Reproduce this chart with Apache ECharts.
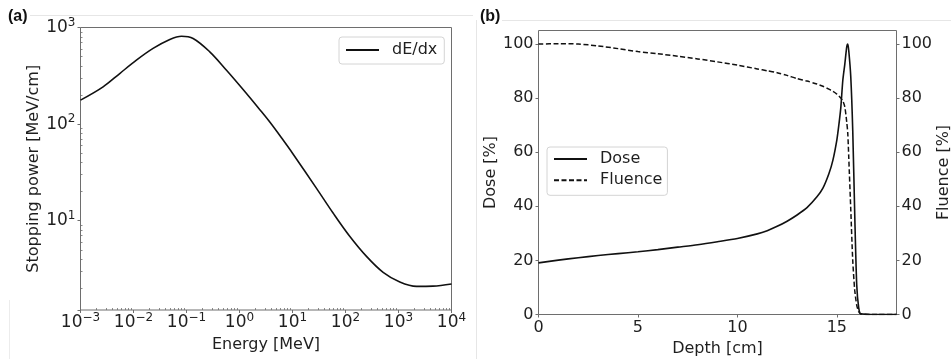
<!DOCTYPE html>
<html>
<head>
<meta charset="utf-8">
<script src="https://cdn.jsdelivr.net/npm/echarts@6/dist/echarts.min.js"></script>
<style>
  html, body { margin: 0; padding: 0; background: #fff; }
  #chart { width: 951px; height: 359px; }
</style>
</head>
<body>
<div id="chart"></div>
<script>
// (a) stopping power vs energy (log-log)
const energyMeV = [0.001, 0.00267, 0.0055, 0.01135, 0.0234, 0.0484, 0.0805, 0.1334, 0.275, 0.569,
  1.17, 2.42, 3.73, 6.65, 10, 28.4, 58.3, 120, 249, 513, 1059, 2188, 4467, 10000];
const stoppingPower = [177, 243, 334, 459, 607, 752, 813, 770, 560, 361,
  228, 141, 105, 68.4, 50, 21.6, 12.0, 6.9, 4.27, 2.92, 2.32, 2.09, 2.1, 2.21];

// (b) depth-dose and fluence
const depthCm = [0, 1, 2, 3, 4, 5, 6, 7, 8, 9, 10, 11, 11.5, 12, 12.5, 13, 13.5, 14, 14.3, 14.6,
  14.8, 15, 15.1, 15.2, 15.3, 15.4, 15.5, 15.55, 15.6, 15.7, 15.8, 15.9, 16, 16.1, 16.2, 17, 18];
const dosePct = [19.1, 20.1, 21.0, 21.8, 22.5, 23.2, 24.0, 24.9, 25.8, 26.9, 28.1, 29.8, 31.0, 32.6, 34.5, 36.8, 39.5, 43.5, 46.7, 52,
  57, 64.5, 70, 76.5, 86.5, 92.5, 99, 100, 97.5, 88, 68, 37, 11, 2.5, 0.3, 0, 0];
const fluencePct = [100, 100.1, 100, 99.3, 98.3, 97.2, 96.4, 95.5, 94.5, 93.4, 92.2, 90.8, 90.1, 89.4, 88.4, 87.2, 86.3, 85.2, 84.4, 83.3,
  82.5, 81.5, 80.8, 80.0, 79.0, 76.8, 71, 67, 58, 39, 20, 9, 3.5, 1, 0.2, 0, 0];

const pctTicks = [0, 20, 40, 60, 80, 100];
const depthTicks = [0, 5, 10, 15];

const FONT = 'DejaVu Sans';
const INK = '#1f1f1f';
const SPINE = '#6e6e6e';

// minor tick positions (in decades) for the log axes
function minorDecades(lo, hi) {
  const out = [];
  for (let n = Math.floor(lo); n < hi; n++) {
    for (let m = 2; m <= 9; m++) {
      const v = n + Math.log10(m);
      if (v > lo && v < hi) out.push(v);
    }
  }
  return out;
}
const yMin = 1.19;

function powLabel(v) {
  const e = Math.log10(v);
  const r = Math.round(e);
  if (Math.abs(e - r) > 1e-6) return '';
  return '{b|10}{s|' + (r < 0 ? '\u2212' + (-r) : r) + '}';
}
const powRich = {
  b: { fontFamily: FONT, fontSize: 17, color: INK, lineHeight: 22 },
  s: { fontFamily: FONT, fontSize: 12, color: INK, lineHeight: 14, verticalAlign: 'top' }
};

const noLine = { show: false, onZero: false };
const nameStyle = { fontFamily: FONT, fontSize: 16, color: INK };
const tickLabel = { fontFamily: FONT, fontSize: 16, color: INK, margin: 5 };
const tick = { show: true, length: 3, lineStyle: { color: SPINE, width: 1 } };
// the overlay axes draw their ticks flipped, so "inside" points them outwards
const minorTick = { show: true, inside: true, length: 2, lineStyle: { color: SPINE, width: 0.8 } };

const legendBase = {
  orient: 'vertical',
  itemWidth: 33,
  itemHeight: 14,
  itemGap: 5.3,
  backgroundColor: 'rgba(255,255,255,0.8)',
  borderColor: '#d4d4d4',
  borderWidth: 1,
  borderRadius: 3,
  itemStyle: { opacity: 0, color: 'rgba(0,0,0,0)', borderWidth: 0 },
  formatter: name => '{t|' + name + '}',
  textStyle: {
    fontFamily: FONT, fontSize: 16, color: INK,
    rich: { t: { fontFamily: FONT, fontSize: 16, color: INK, lineHeight: 18, padding: [0, 0, 0, 8] } }
  }
};

const chart = echarts.init(document.getElementById('chart'), null, { renderer: 'canvas' });

chart.setOption({
  animation: false,
  backgroundColor: '#fff',
  grid: [
    { left: 80.5, top: 27.5, width: 371, height: 282.5, show: true, borderColor: SPINE, borderWidth: 1,
      containLabel: false, outerBoundsMode: 'none' },
    { left: 538.5, top: 30.5, width: 358, height: 284, show: true, borderColor: SPINE, borderWidth: 1,
      containLabel: false, outerBoundsMode: 'none' }
  ],
  xAxis: [
    {
      type: 'log', gridIndex: 0, min: 0.001, max: 10000, logBase: 10, position: 'bottom',
      name: 'Energy [MeV]', nameLocation: 'middle', nameGap: 24, nameTextStyle: nameStyle,
      axisLine: noLine, splitLine: { show: false }, axisTick: tick,
      axisLabel: { formatter: powLabel, rich: powRich, margin: 2, hideOverlap: false, showMinLabel: true, showMaxLabel: true }
    },
    {
      type: 'value', gridIndex: 0, min: -3, max: 4, position: 'bottom',
      axisLine: noLine, splitLine: { show: false }, axisLabel: { show: false },
      axisTick: Object.assign({ customValues: minorDecades(-3, 4) }, minorTick)
    },
    {
      type: 'value', gridIndex: 1, min: 0, max: 18, position: 'bottom',
      name: 'Depth [cm]', nameLocation: 'middle', nameGap: 23, nameTextStyle: nameStyle,
      axisLine: noLine, splitLine: { show: false },
      axisTick: Object.assign({ customValues: depthTicks }, tick),
      axisLabel: Object.assign({ customValues: depthTicks }, tickLabel)
    }
  ],
  yAxis: [
    {
      type: 'log', gridIndex: 0, min: yMin, max: 1000, logBase: 10, position: 'left',
      name: 'Stopping power [MeV/cm]', nameLocation: 'middle', nameGap: 37, nameTextStyle: nameStyle,
      axisLine: noLine, splitLine: { show: false }, axisTick: tick,
      axisLabel: { formatter: powLabel, rich: powRich, margin: 5, hideOverlap: false, showMinLabel: true, showMaxLabel: true }
    },
    {
      type: 'value', gridIndex: 0, min: Math.log10(yMin), max: 3, position: 'left',
      axisLine: noLine, splitLine: { show: false }, axisLabel: { show: false },
      axisTick: Object.assign({ customValues: minorDecades(Math.log10(yMin), 3) }, minorTick)
    },
    {
      type: 'value', gridIndex: 1, min: 0, max: 105, position: 'left',
      name: 'Dose [%]', nameLocation: 'middle', nameGap: 38, nameTextStyle: nameStyle,
      axisLine: noLine, splitLine: { show: false },
      axisTick: Object.assign({ customValues: pctTicks }, tick),
      axisLabel: Object.assign({ customValues: pctTicks }, tickLabel)
    },
    {
      type: 'value', gridIndex: 1, min: 0, max: 105, position: 'right',
      name: 'Fluence [%]', nameLocation: 'middle', nameGap: 37, nameTextStyle: nameStyle,
      axisLine: noLine, splitLine: { show: false },
      axisTick: Object.assign({ customValues: pctTicks }, tick),
      axisLabel: Object.assign({ customValues: pctTicks }, tickLabel)
    }
  ],
  legend: [
    Object.assign({}, legendBase, { data: ['dE/dx'], left: 339, top: 37, padding: [5, 7, 6, 6] }),
    Object.assign({}, legendBase, { data: ['Dose', 'Fluence'], left: 547, top: 147, padding: [4, 5, 7, 6] })
  ],
  series: [
    {
      name: 'dE/dx', type: 'line', xAxisIndex: 0, yAxisIndex: 0,
      data: energyMeV.map((e, i) => [e, stoppingPower[i]]),
      symbol: 'none', smooth: 0.35,
      lineStyle: { color: '#111', width: 1.6 }, itemStyle: { color: '#111' }
    },
    {
      name: 'Dose', type: 'line', xAxisIndex: 2, yAxisIndex: 2,
      data: depthCm.map((d, i) => [d, dosePct[i]]),
      symbol: 'none', smooth: 0.25,
      lineStyle: { color: '#111', width: 1.6 }, itemStyle: { color: '#111' }
    },
    {
      name: 'Fluence', type: 'line', xAxisIndex: 2, yAxisIndex: 3,
      data: depthCm.map((d, i) => [d, fluencePct[i]]),
      symbol: 'none', smooth: 0.25,
      lineStyle: { color: '#111', width: 1.5, type: [5, 2.5] }, itemStyle: { color: '#111' }
    }
  ],
  graphic: [
    { type: 'text', left: 8, top: 9, style: { text: '(a)', font: 'bold 16px "Liberation Sans"', fill: '#111' } },
    { type: 'text', left: 480, top: 9, style: { text: '(b)', font: 'bold 16px "Liberation Sans"', fill: '#111' } },
    { type: 'line', shape: { x1: 30, y1: 15.5, x2: 473, y2: 15.5 }, style: { stroke: '#e6e6e6', lineWidth: 1 } },
    { type: 'line', shape: { x1: 476.5, y1: 20, x2: 476.5, y2: 359 }, style: { stroke: '#e6e6e6', lineWidth: 1 } },
    { type: 'line', shape: { x1: 9.5, y1: 300, x2: 9.5, y2: 359 }, style: { stroke: '#ececec', lineWidth: 1 } },
    { type: 'line', shape: { x1: 502, y1: 20.5, x2: 951, y2: 20.5 }, style: { stroke: '#e6e6e6', lineWidth: 1 } }
  ]
});
</script>
</body>
</html>
